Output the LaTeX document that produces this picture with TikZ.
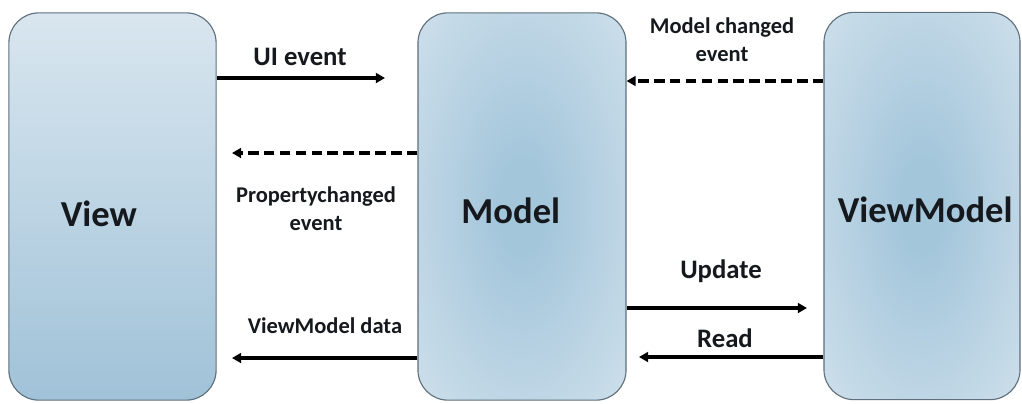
\documentclass[tikz,border=0pt]{standalone}
\usepackage{fontspec}
\setmainfont{Carlito}
\usepackage{tikz}
\usetikzlibrary{arrows.meta,positioning}
\definecolor{boxedge}{HTML}{5F6F7C}
\definecolor{boxin}{HTML}{A4C6DB}
\definecolor{boxout}{HTML}{DCE8F0}
\definecolor{viewtop}{HTML}{D9E6EF}
\definecolor{viewbot}{HTML}{A0C2D8}
\definecolor{ink}{HTML}{15191D}
\pgfdeclareradialshading{boxglow}{\pgfpoint{0bp}{0bp}}{color(0bp)=(boxin); color(6bp)=(boxin); color(46bp)=(boxout); color(72bp)=(boxout)}

\begin{document}
\begin{tikzpicture}[x=0.025cm, y=-0.025cm, text=ink,
  layer/.style={draw=boxedge, line width=0.8pt, rounded corners=0.75cm,
    minimum width=5.18cm, minimum height=9.68cm, inner sep=0pt},
  flow/.style={line width=2.2pt, -{Triangle[length=6.5pt,width=7pt]}},
  back/.style={flow, dash pattern=on 7.5pt off 3.8pt},
  big/.style={font=\bfseries\fontsize{26}{30}\selectfont, inner sep=0pt},
  mid/.style={font=\bfseries\fontsize{19}{23}\selectfont, inner sep=0pt},
  small/.style={font=\bfseries\fontsize{16}{20}\selectfont, align=center, inner sep=0pt}]
\useasboundingbox (0,0) rectangle (1022,403);
% View block
\node[layer, top color=viewtop, bottom color=viewbot] (view) at (112.5,206.5) {};
\node[big] (viewtxt) at ([xshift=-0.34cm, yshift=-0.19cm]view.center) {View};
% Model block
\node[layer, shading=boxglow, minimum width=5.2cm] (model) at (522,206.5) {};
\node[big] (modeltxt) at ([xshift=-0.28cm, yshift=-0.1cm]model.center) {Model};
% ViewModel block
\node[layer, shading=boxglow, minimum width=4.9cm] (vm) at (922,206) {};
\node[big] (vmtxt) at ([xshift=0.08cm, yshift=-0.1cm]vm.center) {ViewModel};
% View <-> Model
\coordinate (uitip) at (385,78);
\coordinate (pctip) at (232,153);
\coordinate (datatip) at (232,358);
\draw[flow] (view.east |- uitip) -- (uitip);
\draw[back] (model.west |- pctip) -- (pctip);
\draw[flow] (model.west |- datatip) -- (datatip);
\node[mid, anchor=base] (uilbl) at (300,65) {UI event};
\node[small, anchor=north] (pclbl) at (316,186) {Propertychanged\\ event};
\node[small, anchor=base] (datalbl) at (325,333) {ViewModel data};
% Model <-> ViewModel
\coordinate (mcrow) at (720,81);
\coordinate (updtip) at (807,308);
\coordinate (readtip) at (639,357);
\draw[back] (vm.west |- mcrow) -- (model.east |- mcrow);
\draw[flow] (model.east |- updtip) -- (updtip);
\draw[flow] (vm.west |- readtip) -- (readtip);
\node[small, anchor=north] (mclbl) at (722,17) {Model changed\\ event};
\node[mid, anchor=base] (updlbl) at (721,278) {Update};
\node[mid, anchor=base] (readlbl) at (725,347) {Read};
\end{tikzpicture}
\end{document}
